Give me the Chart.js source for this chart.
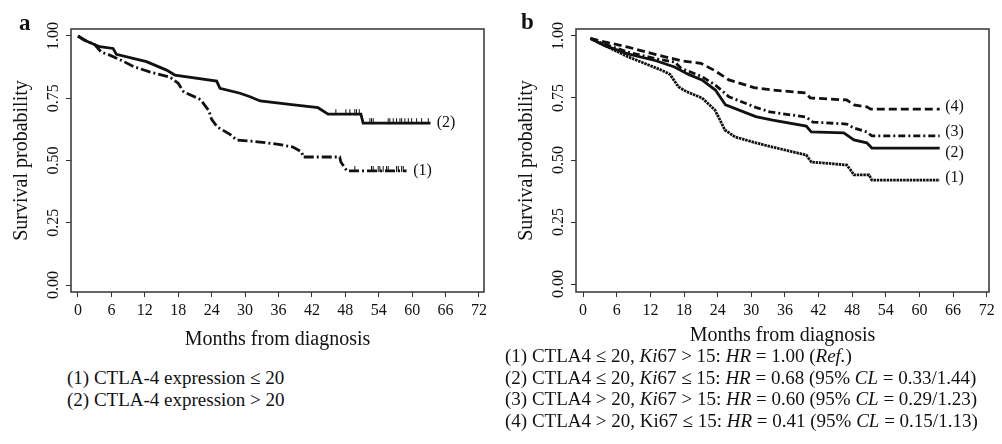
<!DOCTYPE html>
<html lang="en">
<head>
<meta charset="UTF-8">
<title>CTLA-4 survival</title>
<script src="https://cdn.jsdelivr.net/npm/chart.js@4.4.1/dist/chart.umd.min.js"></script>
<style>
  body { margin: 0; background: #fff; }
  #wrap { position: relative; width: 1002px; height: 444px; background: #fff; font-family: "Liberation Serif", serif; color: #111; }
  canvas { position: absolute; top: 0; }
  .letter { position: absolute; font-weight: bold; font-size: 23px; line-height: 1; }
  .legend { position: absolute; font-size: 19px; white-space: nowrap; }
</style>
</head>
<body>
<div id="wrap">
  <canvas id="chartA" width="500" height="360" style="left:0"></canvas>
  <canvas id="chartB" width="497" height="360" style="left:505px"></canvas>
  <div class="letter" style="left:19px; top:11px">a</div>
  <div class="letter" style="left:521px; top:10px">b</div>
  <div class="legend" style="left:67px; top:367px; line-height:22px">
    (1) CTLA-4 expression ≤ 20<br>
    (2) CTLA-4 expression &gt; 20
  </div>
  <div class="legend" style="left:505px; top:345px; line-height:21.7px">
    (1) CTLA4 ≤ 20, <i>Ki</i>67 &gt; 15: <i>HR</i> = 1.00 (<i>Ref.</i>)<br>
    (2) CTLA4 ≤ 20, <i>Ki</i>67 ≤ 15: <i>HR</i> = 0.68 (95% <i>CL</i> = 0.33/1.44)<br>
    (3) CTLA4 &gt; 20, <i>Ki</i>67 &gt; 15: <i>HR</i> = 0.60 (95% <i>CL</i> = 0.29/1.23)<br>
    (4) CTLA4 &gt; 20, Ki67 ≤ 15: <i>HR</i> = 0.41 (95% <i>CL</i> = 0.15/1.13)
  </div>
</div>

<script>
// ---- data ----
const xTicks = [0, 6, 12, 18, 24, 30, 36, 42, 48, 54, 60, 66, 72];
const yTicks = [0, 0.25, 0.5, 0.75, 1];

// panel a: (1) CTLA-4 <= 20, (2) CTLA-4 > 20
const aTime1 = [0, 1.5, 3, 4.2, 5.5, 8, 10, 13, 16.5, 18, 19, 22, 23.5, 24, 25, 27.3, 28.5, 31, 32.7, 36, 38.6, 40.2, 40.4, 47, 47.2, 48.3, 59];
const aSurv1 = [1, 0.98, 0.965, 0.935, 0.925, 0.9, 0.877, 0.855, 0.835, 0.81, 0.775, 0.745, 0.7, 0.665, 0.635, 0.605, 0.582, 0.578, 0.574, 0.565, 0.554, 0.534, 0.514, 0.514, 0.494, 0.458, 0.458];
const aTime2 = [0, 1, 2, 3.9, 6.3, 6.9, 12.3, 15.9, 17.4, 24.9, 25.5, 29.1, 30.9, 32.7, 38, 43.1, 44.9, 50.8, 51.2, 63.3];
const aSurv2 = [1, 0.985, 0.975, 0.957, 0.95, 0.926, 0.897, 0.863, 0.843, 0.819, 0.79, 0.77, 0.756, 0.739, 0.725, 0.712, 0.686, 0.686, 0.65, 0.65];
const aCensTime1 = [49.7, 52.7, 53.0, 53.9, 54.2, 54.8, 55.4, 55.7, 57.2, 57.5, 58.1, 58.4];
const aCensSurv1 = [0.458, 0.458, 0.458, 0.458, 0.458, 0.458, 0.458, 0.458, 0.458, 0.458, 0.458, 0.458];
const aCensTime2 = [46.3, 48.1, 48.8, 49.7, 50.0, 50.5, 52.4, 52.7, 53.0, 55.7, 56.0, 56.6, 57.2, 57.8, 58.1, 58.7, 59.3, 59.9, 60.8, 61.7, 62.9];
const aCensSurv2 = [0.686, 0.686, 0.686, 0.686, 0.686, 0.686, 0.65, 0.65, 0.65, 0.65, 0.65, 0.65, 0.65, 0.65, 0.65, 0.65, 0.65, 0.65, 0.65, 0.65, 0.65];
const aLabels = ["(1)", "(2)"];
const aLabelX = [60.2, 64.4];
const aLabelY = [0.458, 0.65];

// panel b: CTLA4 x Ki67 groups
const bTime1 = [1.3, 3, 4.9, 7.9, 10.9, 14, 15.5, 17, 18.5, 21.2, 23.5, 25.3, 27.1, 30.5, 33.8, 39.8, 40.7, 47, 47.7, 48.3, 51, 51.5, 63.6];
const bSurv1 = [0.99, 0.97, 0.95, 0.917, 0.89, 0.862, 0.845, 0.795, 0.775, 0.75, 0.702, 0.621, 0.593, 0.571, 0.552, 0.52, 0.492, 0.48, 0.46, 0.44, 0.44, 0.419, 0.419];
const bTime2 = [1.3, 4, 8, 13, 16.3, 18.8, 21.2, 23.6, 25.4, 30.8, 33.8, 39.8, 40.7, 46.5, 48.3, 50.6, 51.5, 63.6];
const bSurv2 = [0.99, 0.96, 0.928, 0.9, 0.875, 0.845, 0.823, 0.782, 0.722, 0.675, 0.661, 0.637, 0.613, 0.609, 0.581, 0.569, 0.548, 0.548];
const bTime3 = [1.3, 4, 8, 13, 16.3, 17.5, 21.2, 23.6, 26, 30.8, 33.3, 39.8, 41, 47, 48.3, 50.6, 51.5, 63.6];
const bSurv3 = [0.99, 0.965, 0.935, 0.908, 0.895, 0.87, 0.836, 0.802, 0.755, 0.712, 0.694, 0.673, 0.653, 0.645, 0.629, 0.613, 0.597, 0.597];
const bTime4 = [1.3, 4, 8, 13, 17.5, 21, 23.5, 26, 30.5, 33.8, 39.8, 40.5, 47, 48.3, 50.6, 51.3, 63.6];
const bSurv4 = [0.99, 0.975, 0.955, 0.925, 0.9, 0.89, 0.86, 0.823, 0.792, 0.782, 0.77, 0.75, 0.742, 0.722, 0.714, 0.705, 0.705];
const bLabels = ["(1)", "(2)", "(3)", "(4)"];
const bLabelX = [64.6, 64.6, 64.6, 64.6];
const bLabelY = [0.427, 0.528, 0.613, 0.714];

// ---- helpers ----
const FONT = "Liberation Serif";
const INK = "#111";

function pts(xs, ys) {
  return xs.map((x, i) => ({ x: x, y: ys[i] }));
}

function curve(xs, ys, dash) {
  return {
    data: pts(xs, ys),
    borderColor: INK,
    borderWidth: 2.8,
    borderDash: dash,
    pointRadius: 0,
    tension: 0,
    fill: false
  };
}

// censor mark: small tick that sits on top of the curve
const tickImg = document.createElement("canvas");
tickImg.width = 3;
tickImg.height = 12;
(function () {
  const c = tickImg.getContext("2d");
  c.fillStyle = INK;
  c.fillRect(1, 1, 1, 6);
})();

function censor(xs, ys) {
  return {
    type: "scatter",
    data: pts(xs, ys),
    pointStyle: tickImg,
    radius: 4,
    showLine: false
  };
}

// box around the plot + curve labels
function boxPlugin(labels, lx, ly) {
  return {
    id: "box",
    afterDatasetsDraw(chart) {
      const ctx = chart.ctx, a = chart.chartArea;
      ctx.save();
      ctx.strokeStyle = "#333";
      ctx.lineWidth = 1.5;
      ctx.strokeRect(a.left, a.top, a.right - a.left, a.bottom - a.top);
      ctx.fillStyle = INK;
      ctx.font = "16px " + FONT;
      ctx.textBaseline = "middle";
      ctx.textAlign = "left";
      for (let i = 0; i < labels.length; i++) {
        ctx.fillText(labels[i], chart.scales.x.getPixelForValue(lx[i]), chart.scales.y.getPixelForValue(ly[i]));
      }
      ctx.restore();
    }
  };
}

function makeChart(id, datasets, xMin, xMax, yMin, yMax, titlePad, plugin) {
  return new Chart(document.getElementById(id), {
    type: "line",
    data: { datasets: datasets },
    options: {
      responsive: false,
      animation: false,
      devicePixelRatio: 1,
      layout: { padding: { left: 0, top: 29, right: document.getElementById(id).width - 484, bottom: 8 } },
      plugins: { legend: { display: false }, tooltip: { enabled: false } },
      scales: {
        x: {
          type: "linear",
          min: xMin,
          max: xMax,
          afterBuildTicks: s => { s.ticks = xTicks.map(v => ({ value: v })); },
          afterFit: s => { s.height = 60; },
          grid: { drawOnChartArea: false, drawTicks: true, tickLength: 5, color: "#333" },
          border: { display: false },
          ticks: { font: { family: FONT, size: 16 }, color: INK, padding: 4, maxRotation: 0, autoSkip: false },
          title: { display: true, text: "Months from diagnosis", color: INK, font: { family: FONT, size: 20 }, padding: { top: 0, bottom: titlePad } }
        },
        y: {
          type: "linear",
          min: yMin,
          max: yMax,
          afterBuildTicks: s => { s.ticks = yTicks.map(v => ({ value: v })); },
          afterFit: s => { s.width = 71; },
          grid: { drawOnChartArea: false, drawTicks: true, tickLength: 5, color: "#333" },
          border: { display: false },
          ticks: {
            font: { family: FONT, size: 16 }, color: INK, padding: -2,
            minRotation: 90, maxRotation: 90, crossAlign: "center",
            callback: v => v.toFixed(2)
          },
          title: { display: true, text: "Survival probability", color: INK, font: { family: FONT, size: 20 }, padding: { top: 10, bottom: 0 } }
        }
      }
    },
    plugins: [plugin]
  });
}

makeChart("chartA", [
  curve(aTime1, aSurv1, [10, 3, 2, 3]),
  curve(aTime2, aSurv2, []),
  censor(aCensTime1, aCensSurv1),
  censor(aCensTime2, aCensSurv2)
], -1.25, 72.9, -0.028, 1.028, 0, boxPlugin(aLabels, aLabelX, aLabelY));

makeChart("chartB", [
  curve(bTime1, bSurv1, [2.5, 0.8]),
  curve(bTime2, bSurv2, []),
  curve(bTime3, bSurv3, [7, 3, 2, 3]),
  curve(bTime4, bSurv4, [8, 4])
], -1.27, 72.4, -0.032, 1.028, 4, boxPlugin(bLabels, bLabelX, bLabelY));
</script>
</body>
</html>
